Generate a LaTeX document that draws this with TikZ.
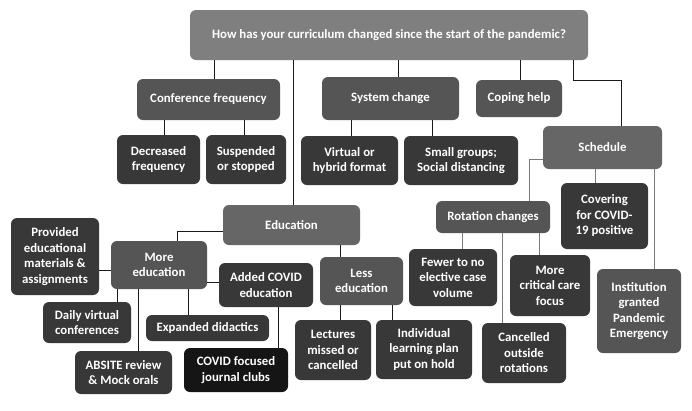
\documentclass[tikz,border=0pt]{standalone}
\usepackage{fontspec}
\setmainfont{Carlito}
\definecolor{cTop}{HTML}{7F7F7F}
\definecolor{cMid}{HTML}{555555}
\definecolor{cEdu}{HTML}{666666}
\definecolor{cDark}{HTML}{383838}
\definecolor{cBlack}{HTML}{151515}
\definecolor{cLine}{HTML}{1A1A1A}
\definecolor{cGray}{HTML}{7A7A7A}
\begin{document}
\begin{tikzpicture}[x=1pt,y=-1pt,
  box/.style={rounded corners=6pt, text=white, font=\fontsize{12.8}{15.5}\selectfont\bfseries, align=center, inner sep=0pt, draw=none},
  topbox/.style={box, fill=cTop},
  midbox/.style={box, fill=cMid},
  edubox/.style={box, fill=cEdu},
  darkbox/.style={box, fill=cDark},
  blackbox/.style={box, fill=cBlack},
  conn/.style={draw=cLine, line width=0.9pt},
  gconn/.style={draw=cGray, line width=0.9pt}]
\useasboundingbox (0,0) rectangle (692,410);
\fill[white] (0,0) rectangle (692,410);

% nodes
\node[topbox, minimum width=398, minimum height=50] (top) at (389,35) {How has your curriculum changed since the start of the pandemic?};
\node[midbox, minimum width=143, minimum height=41] (conf) at (208.5,99.5) {Conference frequency};
\node[midbox, minimum width=137, minimum height=43] (sys) at (390.5,98.5) {System change};
\node[midbox, minimum width=86, minimum height=37] (cope) at (519,98.5) {Coping help};
\node[edubox, minimum width=119, minimum height=43] (sched) at (602.5,147.5) {Schedule};
\node[darkbox, minimum width=83, minimum height=49] (dec) at (158.5,159.5) {Decreased\\frequency};
\node[darkbox, minimum width=80, minimum height=49] (susp) at (246,159.5) {Suspended\\or stopped};
\node[darkbox, minimum width=97, minimum height=49] (virt) at (349.5,160.5) {Virtual or\\hybrid format};
\node[darkbox, minimum width=114, minimum height=49] (small) at (461,160.5) {Small groups;\\Social distancing};
\node[edubox, minimum width=137, minimum height=40] (edu) at (291.5,225) {Education};
\node[midbox, minimum width=114, minimum height=32] (rot) at (493,217) {Rotation changes};
\node[darkbox, minimum width=87, minimum height=66] (cov) at (604.5,216) {Covering\\for COVID-\\19 positive};
\node[darkbox, minimum width=88, minimum height=57] (fewer) at (453,277.5) {Fewer to no\\elective case\\volume};
\node[darkbox, minimum width=80, minimum height=61] (crit) at (550,285.5) {More\\critical care\\focus};
\node[darkbox, minimum width=84, minimum height=60] (canc) at (524,353) {Cancelled\\outside\\rotations};
\node[midbox, minimum width=84, minimum height=84] (inst) at (639,311) {Institution\\granted\\Pandemic\\Emergency};
\node[midbox, minimum width=83, minimum height=48] (less) at (361.5,281) {Less\\education};
\node[darkbox, minimum width=76, minimum height=60] (lect) at (333,350) {Lectures\\missed or\\cancelled};
\node[darkbox, minimum width=96, minimum height=59] (indiv) at (424,349.5) {Individual\\learning plan\\put on hold};
\node[darkbox, minimum width=88, minimum height=77] (prov) at (55,256.5) {Provided\\educational\\materials \&\\assignments};
\node[midbox, minimum width=96, minimum height=48] (more) at (159,265) {More\\education};
\node[darkbox, minimum width=88, minimum height=41] (daily) at (87,322.5) {Daily virtual\\conferences};
\node[darkbox, minimum width=97, minimum height=43] (absite) at (123.5,372.5) {ABSITE review\\\& Mock orals};
\node[darkbox, minimum width=123, minimum height=26] (exp) at (207.5,328) {Expanded didactics};
\node[darkbox, minimum width=94, minimum height=44] (added) at (266,285) {Added COVID\\education};
\node[blackbox, minimum width=104, minimum height=44] (journ) at (236,370) {COVID focused\\journal clubs};

% helper coordinates for connector positions
\coordinate (xconf) at (214,0);
\coordinate (xedu) at (293,0);
\coordinate (xsys) at (398,0);
\coordinate (xcope) at (520,0);
\coordinate (s1) at (573,0);
\coordinate (s2) at (621,80);
\coordinate (xdec) at (164,0);
\coordinate (xsusp) at (244,0);
\coordinate (xvirt) at (351,0);
\coordinate (xsmall) at (432,0);
\coordinate (xcov) at (595,0);
\coordinate (xinst) at (654,0);
\coordinate (r1) at (529,159);
\coordinate (xfewer) at (462,0);
\coordinate (xcrit) at (539,0);
\coordinate (xcanc) at (502,0);
\coordinate (xless) at (340,0);
\coordinate (m1) at (177,231);
\coordinate (yprov) at (0,270);
\coordinate (xdaily) at (117,0);
\coordinate (xabs) at (138,0);
\coordinate (xexp) at (188,0);
\coordinate (yadd) at (0,282);
\coordinate (xjourn) at (278,0);
\coordinate (xlect) at (340,0);
\coordinate (xindiv) at (392,0);

% connectors
\draw[conn] (top.south -| xconf) -- (conf.north -| xconf);
\draw[conn] (top.south -| xedu) -- (edu.north -| xedu);
\draw[conn] (top.south -| xsys) -- (sys.north -| xsys);
\draw[conn] (top.south -| xcope) -- (cope.north -| xcope);
\draw[conn] (top.south -| s1) |- (s2) -- (sched.north -| s2);
\draw[conn] (conf.south -| xdec) -- (dec.north -| xdec);
\draw[conn] (conf.south -| xsusp) -- (susp.north -| xsusp);
\draw[conn] (sys.south -| xvirt) -- (virt.north -| xvirt);
\draw[conn] (sys.south -| xsmall) -- (small.north -| xsmall);
\draw[gconn] (sched.south -| xcov) -- (cov.north -| xcov);
\draw[gconn] (sched.south -| xinst) -- (inst.north -| xinst);
\draw[gconn] (sched.west |- r1) -| (rot.north -| r1);
\draw[gconn] (rot.south -| xfewer) -- (fewer.north -| xfewer);
\draw[gconn] (rot.south -| xcrit) -- (crit.north -| xcrit);
\draw[gconn] (rot.south -| xcanc) -- (canc.north -| xcanc);
\draw[conn] (edu.south -| xless) -- (less.north -| xless);
\draw[conn] (edu.west |- m1) -| (more.north -| m1);
\draw[conn] (prov.east |- yprov) -- (more.west |- yprov);
\draw[conn] (more.south -| xdaily) -- (daily.north -| xdaily);
\draw[conn] (more.south -| xabs) -- (absite.north -| xabs);
\draw[conn] (more.south -| xexp) -- (exp.north -| xexp);
\draw[conn] (more.east |- yadd) -- (added.west |- yadd);
\draw[conn] (added.south -| xjourn) -- (journ.north -| xjourn);
\draw[conn] (less.south -| xlect) -- (lect.north -| xlect);
\draw[conn] (less.south -| xindiv) -- (indiv.north -| xindiv);
\end{tikzpicture}
\end{document}
